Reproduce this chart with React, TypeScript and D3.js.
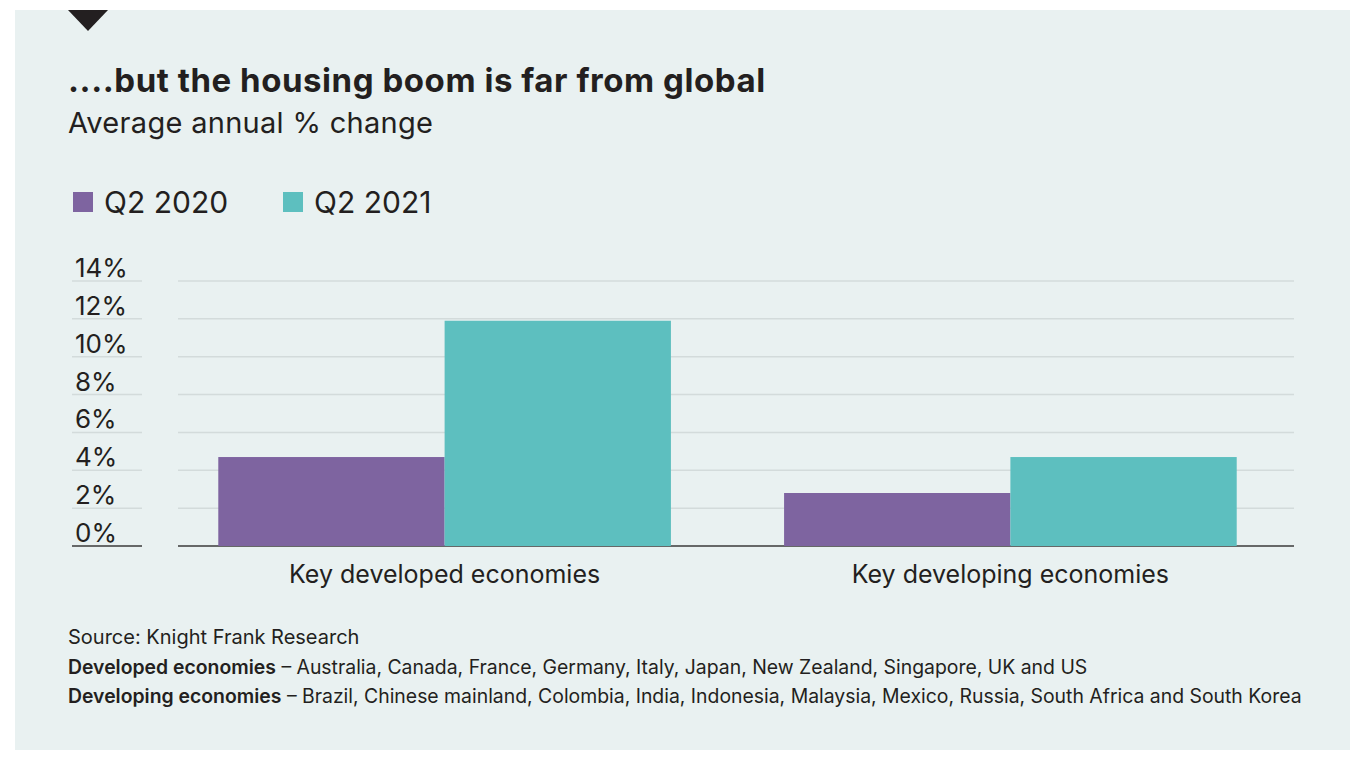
import { useEffect, useRef } from "react"
import * as d3 from "d3"

// Chart data
const categories = ["Key developed economies", "Key developing economies"]
const seriesNames = ["Q2 2020", "Q2 2021"]
const q2020 = [4.7, 2.8]
const q2021 = [11.9, 4.7]
const yTicks = [0, 2, 4, 6, 8, 10, 12, 14]
const footnotes = [
  { bold: "", rest: "Source: Knight Frank Research" },
  { bold: "Developed economies", rest: " – Australia, Canada, France, Germany, Italy, Japan, New Zealand, Singapore, UK and US" },
  { bold: "Developing economies", rest: " – Brazil, Chinese mainland, Colombia, India, Indonesia, Malaysia, Mexico, Russia, South Africa and South Korea" },
]

const colors = ["#7e64a0", "#5dbfbf"]
const FONT = "Inter, 'Noto Sans', sans-serif"

export default function App() {
  const ref = useRef<SVGSVGElement>(null)

  useEffect(() => {
    document.body.style.margin = "0"
    const svg = d3.select(ref.current)
    svg.selectAll("*").remove()

    const W = 1367
    const H = 763

    svg.append("rect").attr("width", W).attr("height", H).attr("fill", "#ffffff")

    // Panel background
    svg.append("rect")
      .attr("x", 15).attr("y", 10)
      .attr("width", 1335).attr("height", 740)
      .attr("fill", "#e9f1f1")

    // Marker triangle at top
    svg.append("path")
      .attr("d", "M68,10 L108,10 L88,31 Z")
      .attr("fill", "#231f20")

    // Title + subtitle
    svg.append("text")
      .attr("x", 68).attr("y", 92)
      .attr("font-family", FONT)
      .attr("font-weight", 700)
      .attr("font-size", 33)
      .attr("letter-spacing", 0.55)
      .attr("fill", "#231f20")
      .text("....but the housing boom is far from global")

    svg.append("text")
      .attr("x", 68).attr("y", 133)
      .attr("font-family", FONT)
      .attr("font-size", 29)
      .attr("letter-spacing", 0.3)
      .attr("fill", "#231f20")
      .text("Average annual % change")

    // Legend
    const legendX = [73, 283]
    seriesNames.forEach((name, i) => {
      svg.append("rect")
        .attr("x", legendX[i]).attr("y", 192)
        .attr("width", 20).attr("height", 20)
        .attr("fill", colors[i])
      svg.append("text")
        .attr("x", legendX[i] + 31).attr("y", 213)
        .attr("font-family", FONT)
        .attr("font-size", 30)
        .attr("fill", "#231f20")
        .text(name)
    })

    // Scales
    const plotLeft = 178
    const plotRight = 1294
    const y = d3.scaleLinear().domain([0, 14]).range([546, 281])
    const x0 = d3.scaleBand<string>()
      .domain(categories)
      .range([190, 1265])
      .paddingInner(0.2)
      .paddingOuter(0.05)
    const x1 = d3.scaleBand<string>()
      .domain(seriesNames)
      .range([0, x0.bandwidth()])

    // Gridlines and tick labels
    yTicks.forEach((t) => {
      const yy = y(t)
      const stroke = t === 0 ? "#3a3a3a" : "#d3dbdb"
      svg.append("line")
        .attr("x1", 72).attr("x2", 142)
        .attr("y1", yy).attr("y2", yy)
        .attr("stroke", stroke).attr("stroke-width", 1.5)
      svg.append("line")
        .attr("x1", plotLeft).attr("x2", plotRight)
        .attr("y1", yy).attr("y2", yy)
        .attr("stroke", stroke).attr("stroke-width", 1.5)
      svg.append("text")
        .attr("x", 75).attr("y", yy - 4)
        .attr("font-family", FONT)
        .attr("font-size", 26)
        .attr("fill", "#231f20")
        .text(`${t}%`)
    })

    // Bars
    const seriesValues = [q2020, q2021]
    categories.forEach((cat, ci) => {
      seriesNames.forEach((s, si) => {
        const v = seriesValues[si][ci]
        svg.append("rect")
          .attr("x", (x0(cat) ?? 0) + (x1(s) ?? 0))
          .attr("y", y(v))
          .attr("width", x1.bandwidth())
          .attr("height", y(0) - y(v))
          .attr("fill", colors[si])
      })
      svg.append("text")
        .attr("x", (x0(cat) ?? 0) + x0.bandwidth() / 2)
        .attr("y", 583)
        .attr("text-anchor", "middle")
        .attr("font-family", FONT)
        .attr("font-size", 25)
        .attr("fill", "#231f20")
        .text(cat)
    })

    // Footnotes
    footnotes.forEach((f, i) => {
      const t = svg.append("text")
        .attr("x", 68).attr("y", 644 + i * 29.5)
        .attr("font-family", FONT)
        .attr("font-size", i === 0 ? 20 : 19.4)
        .attr("fill", "#231f20")
      if (f.bold) t.append("tspan").attr("font-weight", 600).text(f.bold)
      t.append("tspan").text(f.rest)
    })
  }, [])

  return <svg ref={ref} width={1367} height={763} style={{ display: "block" }} />
}
